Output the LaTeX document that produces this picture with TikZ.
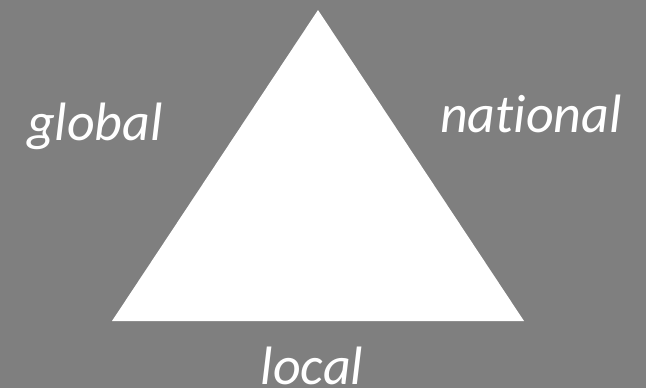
\documentclass[tikz,border=0pt]{standalone}
\usepackage{fontspec}
\setmainfont{Carlito}[Ligatures=NoCommon]
\usepackage{xcolor}
\usetikzlibrary{positioning}
\definecolor{slategrey}{RGB}{127, 127, 127}

\begin{document}
\begin{tikzpicture}[x=1pt, y=-1pt]
        \tikzset{scalelabel/.style={font=\fontsize{54}{60}\selectfont\itshape, text=white, anchor=base, inner sep=0pt}}
        % Grey background, fixes the page size
        \fill[slategrey] (0, 0) rectangle (646, 388);
        \useasboundingbox (0, 0) rectangle (646, 388);
        
        % White triangle
        \coordinate (apex) at (318, 10);
        \coordinate (leftcorner) at (112, 321);
        \coordinate (rightcorner) at (524, 321);
        \fill[white] (apex) -- (leftcorner) -- (rightcorner) -- cycle;
        
        % Labels of the three levels
        \node[scalelabel] (global) at (95, 140) {global};
        \node[scalelabel] (national) at (531, 132) {national};
        \node[scalelabel] (local) at (312, 384) {local};
    \end{tikzpicture}
\end{document}
